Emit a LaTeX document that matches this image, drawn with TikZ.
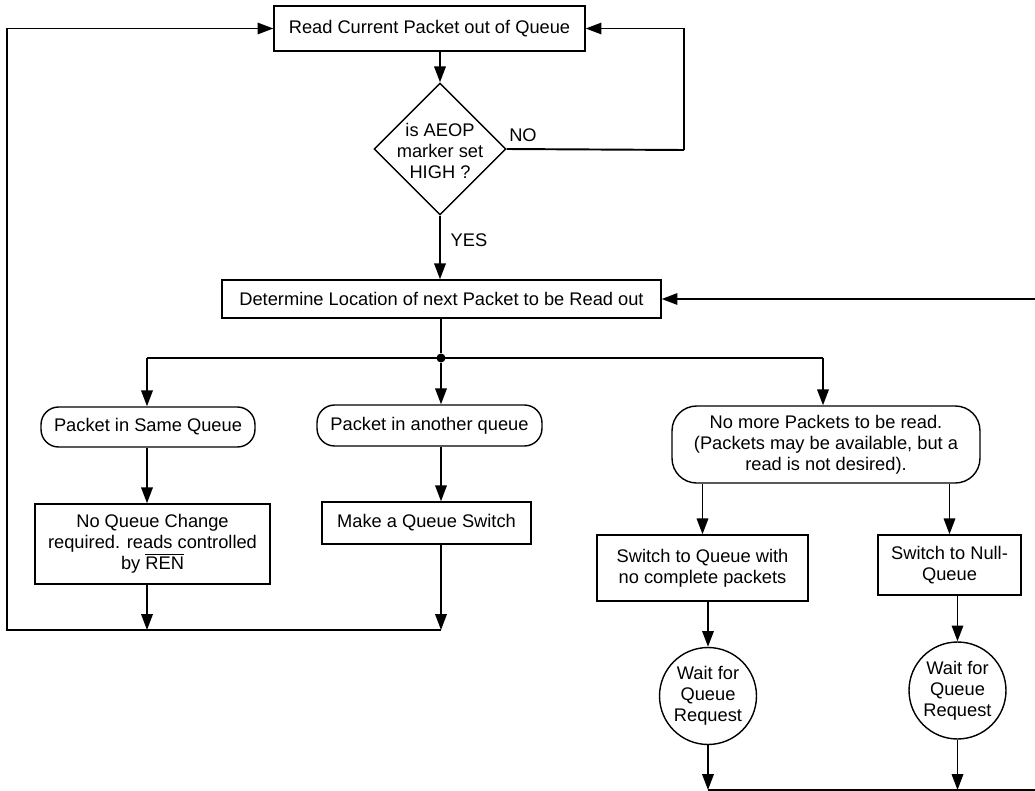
\documentclass[tikz,border=0pt]{standalone}
\usepackage{fontspec}
\setmainfont{Liberation Sans}
\usepackage{tikz}
\usetikzlibrary{positioning,shapes.geometric,arrows.meta}

\begin{document}
\begin{tikzpicture}[x=0.02cm, y=-0.02cm,
    every node/.style={font=\fontsize{10.4}{11.9}\selectfont, line width=0.8pt},
    box/.style={rectangle, draw, align=center, inner sep=0pt},
    pill/.style={rectangle, rounded corners=10pt, draw, align=center, inner sep=0pt},
    decision/.style={diamond, draw, aspect=1, inner sep=0pt, minimum width=2.64cm, minimum height=2.64cm},
    waitnode/.style={circle, draw, align=center, inner sep=0pt, minimum size=1.94cm},
    lbl/.style={inner sep=1pt},
    link/.style={line width=1.1pt, -{Triangle[length=9pt,width=6.5pt]}},
    wire/.style={line width=1.1pt}]
  \useasboundingbox (0,0) rectangle (1035,791);

  % Parte alta
  \node (read) at (429.5,28.5) [box, minimum width=6.22cm, minimum height=0.90cm] {Read Current Packet out of Queue};
  \node (test) at (440,149) [decision] {};
  \node (testtxt) at (440,151) [align=center, inner sep=0pt] {is AEOP\\marker set\\HIGH ?};
  \node (no) at (523,135) [lbl] {NO};
  \node (yes) at (469,240) [lbl] {YES};
  \node (locate) at (441.5,299) [box, minimum width=8.78cm, minimum height=0.76cm] {Determine Location of next Packet to be Read out};

  % Diramazione
  \node (junc) at (441,358) [circle, fill, inner sep=0pt, minimum size=0.18cm] {};
  \coordinate (brL) at (147,358);
  \coordinate (brR) at (823,358);

  % Casi
  \node (same) at (148,427) [pill, minimum width=4.28cm, minimum height=0.80cm] {Packet in Same Queue};
  \node (other) at (429.5,425.5) [pill, minimum width=4.50cm, minimum height=0.82cm] {Packet in another queue};
  \node (nomore) at (826,444.5) [pill, rounded corners=14pt, minimum width=6.16cm, minimum height=1.54cm] {No more Packets to be read.\\(Packets may be available, but a\\read is not desired).};

  % Azioni
  \node (keep) at (152.5,544) [box, minimum width=4.70cm, minimum height=1.60cm] {No Queue Change\\required. reads controlled\\by $\overline{\mbox{REN}}$};
  \node (switch) at (426.5,523) [box, minimum width=4.18cm, minimum height=0.84cm] {Make a Queue Switch};
  \node (empty) at (702.5,568) [box, minimum width=4.22cm, minimum height=1.32cm] {Switch to Queue with\\no complete packets};
  \node (null) at (949.5,565) [box, minimum width=2.86cm, minimum height=1.20cm] {Switch to Null-\\Queue};
  \node (waitA) at (708,696) [waitnode] {Wait for\\Queue\\Request};
  \node (waitB) at (957.5,690.5) [waitnode] {Wait for\\Queue\\Request};

  % Punti di ritorno
  \coordinate (loopL) at (7,630);
  \coordinate (loopR) at (441,630);
  \coordinate (noturn) at (684,150);
  \coordinate (rightin) at (1035,299);
  \coordinate (bottomR) at (1035,790);

  % Collegamenti
  \draw[link] (read.south -| test) -- (test.north);
  \draw[wire] (test.east) -- (noturn);
  \draw[link] (noturn) |- (read.east);
  \draw[link] (test.south) -- (test.south |- locate.north);
  \draw[link] (rightin) -- (locate.east);
  \draw[wire] (locate.south -| junc) -- (junc);
  \draw[wire] (brL) -- (brR);
  \draw[link] (brL) -- (brL |- same.north);
  \draw[link] (junc) -- (junc |- other.north);
  \draw[link] (brR) -- (brR |- nomore.north);
  \draw[link] (brL |- same.south) -- (brL |- keep.north);
  \draw[link] (junc |- other.south) -- (junc |- switch.north);
  \draw[link] (brL |- keep.south) -- (brL |- loopR);
  \draw[link] (junc |- switch.south) -- (loopR);
  \draw[link] (loopR) -- (loopL) |- (read.west);
  \draw[link] (nomore.south -| empty.north) -- (empty.north);
  \draw[link] (nomore.south -| null.north) -- (null.north);
  \draw[link] (waitA |- empty.south) -- (waitA);
  \draw[link] (waitB |- null.south) -- (waitB);
  \draw[link] (waitA) -- (waitA |- bottomR);
  \draw[link] (waitB) -- (waitB |- bottomR);
  \draw[wire] (waitA |- bottomR) -- (bottomR);
\end{tikzpicture}
\end{document}
